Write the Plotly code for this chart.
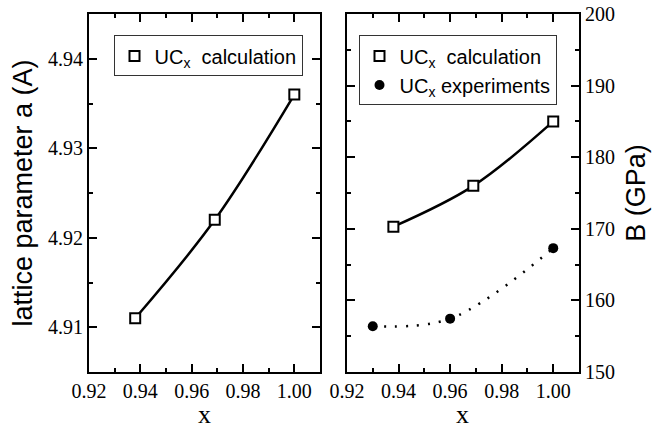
import plotly.graph_objects as go

# data
x_calc = [0.938, 0.969, 1.000]
a_calc = [4.911, 4.922, 4.936]
B_calc = [170.3, 176.0, 185.0]
x_exp = [0.930, 0.960, 1.000]
B_exp = [156.4, 157.45, 167.3]

x_ticks = [0.92, 0.94, 0.96, 0.98, 1.00]
a_ticks = [4.91, 4.92, 4.93, 4.94]
B_ticks = [150, 160, 170, 180, 190, 200]

SERIF = "Liberation Serif"
SANS = "Liberation Sans"

fig = go.Figure()

# left panel: lattice parameter
fig.add_trace(go.Scatter(x=x_calc, y=a_calc, mode="lines", line=dict(color="black", width=2.5, shape="spline"),
                         showlegend=False, xaxis="x", yaxis="y", hoverinfo="skip"))
fig.add_trace(go.Scatter(x=x_calc, y=a_calc, mode="markers", name="UC<sub>x</sub>  calculation",
                         marker=dict(symbol="square", size=10, color="white", line=dict(color="black", width=2)),
                         xaxis="x", yaxis="y", legend="legend"))

# right panel: bulk modulus
fig.add_trace(go.Scatter(x=x_calc, y=B_calc, mode="lines", line=dict(color="black", width=2.5, shape="spline"),
                         showlegend=False, xaxis="x2", yaxis="y2", hoverinfo="skip"))
fig.add_trace(go.Scatter(x=x_exp, y=B_exp, mode="lines", line=dict(color="black", width=2.5, shape="spline", dash="2px,9px"),
                         showlegend=False, xaxis="x2", yaxis="y2", hoverinfo="skip"))
fig.add_trace(go.Scatter(x=x_calc, y=B_calc, mode="markers", name="UC<sub>x</sub>  calculation",
                         marker=dict(symbol="square", size=10, color="white", line=dict(color="black", width=2)),
                         xaxis="x2", yaxis="y2", legend="legend2"))
fig.add_trace(go.Scatter(x=x_exp, y=B_exp, mode="markers", name="UC<sub>x</sub> experiments",
                         marker=dict(symbol="circle", size=10, color="black"),
                         xaxis="x2", yaxis="y2", legend="legend2"))

common_axis = dict(showline=True, linecolor="black", linewidth=2, mirror="ticks", ticks="inside",
                   ticklen=8, tickwidth=1.5, tickcolor="black", showgrid=False, zeroline=False,
                   automargin=False, ticklabeloverflow="allow",
                   tickfont=dict(family=SERIF, size=20, color="black"))

xaxis_common = dict(common_axis, range=[0.92, 1.01], tickvals=x_ticks, ticktext=[f"{v:.2f}" for v in x_ticks],
                    minor=dict(dtick=0.01, tick0=0.92, ticks="inside", ticklen=4, tickwidth=1.5, tickcolor="black"))

# x-axis titles as annotations so they can sit right at the bottom edge
x_title_font = dict(family=SERIF, size=26, color="black")
annotations = [
    dict(text="x", xref="x domain", yref="paper", x=0.5, y=0, xanchor="center", yanchor="bottom",
         yshift=-59, showarrow=False, font=x_title_font),
    dict(text="x", xref="x2 domain", yref="paper", x=0.5, y=0, xanchor="center", yanchor="bottom",
         yshift=-59, showarrow=False, font=x_title_font),
]

fig.update_layout(
    width=668, height=427,
    margin=dict(l=89, r=89, t=14, b=55, autoexpand=False),
    paper_bgcolor="white", plot_bgcolor="white",
    xaxis=dict(xaxis_common, domain=[0, 0.4714], anchor="y"),
    xaxis2=dict(xaxis_common, domain=[0.5265, 1], anchor="y2"),
    yaxis=dict(common_axis, range=[4.905, 4.945], tickvals=a_ticks, ticktext=[f"{v:.2f}" for v in a_ticks],
               minor=dict(dtick=0.005, tick0=4.905, ticks="inside", ticklen=4, tickwidth=1.5, tickcolor="black"),
               anchor="x",
               title=dict(text="lattice parameter a (A)", font=dict(family=SANS, size=27, color="black"), standoff=8)),
    yaxis2=dict(common_axis, range=[150, 200], tickvals=B_ticks, side="right",
                minor=dict(dtick=5, tick0=150, ticks="inside", ticklen=4, tickwidth=1.5, tickcolor="black"),
                anchor="x2",
                title=dict(text="B (GPa)", font=dict(family=SANS, size=27, color="black"), standoff=12)),
    legend=dict(x=0.05, y=0.94, xanchor="left", yanchor="top", bordercolor="#333", borderwidth=1,
                bgcolor="white", font=dict(family=SANS, size=20, color="black")),
    legend2=dict(x=0.55, y=0.94, xanchor="left", yanchor="top", bordercolor="#333", borderwidth=1,
                 bgcolor="white", font=dict(family=SANS, size=20, color="black")),
    annotations=annotations,
)

# remove the browser's default 8px body margin so the figure sits at the window origin
fig.write_html("out.html", config={"displayModeBar": False},
               post_script="document.body.style.margin='0';")
